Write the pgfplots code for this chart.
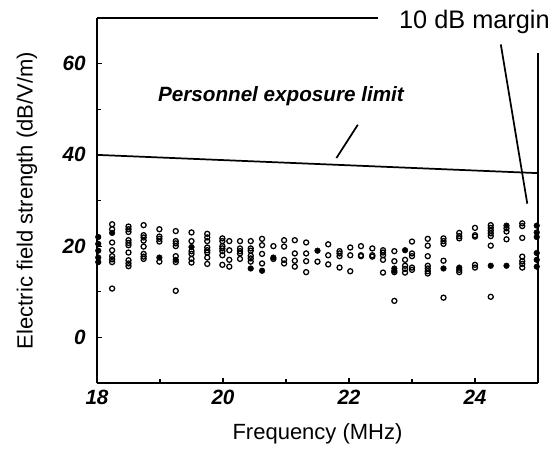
\documentclass[border=0pt]{standalone}
\usepackage{fontspec}
\setmainfont{Liberation Sans}
\usepackage{pgfplots}
\pgfplotsset{compat=1.18}
\usepackage{pgfplotstable}

% measured field strengths, open circles
\pgfplotstableread{
x y
18.24 24.8
18.24 23.7
18.24 20.8
18.24 19.1
18.24 17.8
18.24 17.1
18.24 16.5
18.24 10.7
18.50 24.3
18.50 23.7
18.50 23.1
18.50 21.3
18.50 20.7
18.50 20.2
18.50 18.6
18.50 16.9
18.50 16.2
18.50 15.6
18.74 24.6
18.74 22.4
18.74 21.9
18.74 21.2
18.74 19.9
18.74 18.3
18.74 17.7
18.74 17.2
18.99 23.7
18.99 22.1
18.99 21.6
18.99 21.0
18.99 16.6
19.25 23.3
19.25 21.1
19.25 20.6
19.25 20.0
19.25 17.8
19.25 16.5
19.25 10.2
19.50 23.0
19.50 21.1
19.50 18.9
19.50 18.3
19.50 17.2
19.50 16.4
19.75 22.7
19.75 21.9
19.75 21.1
19.75 19.7
19.75 19.1
19.75 18.6
19.75 17.5
19.75 16.1
19.99 21.7
19.99 21.1
19.99 20.0
19.99 19.5
19.99 18.9
19.99 18.0
19.99 15.9
20.10 21.1
20.10 19.1
20.10 17.0
20.10 15.5
20.27 21.1
20.27 19.5
20.27 18.9
20.27 18.4
20.27 17.2
20.44 21.1
20.44 19.5
20.44 19.0
20.44 17.9
20.44 17.3
20.44 16.6
20.62 21.6
20.62 20.2
20.62 18.3
20.62 16.2
20.80 20.0
20.80 17.2
20.97 21.3
20.97 19.9
20.97 17.0
20.97 16.2
21.14 21.3
21.14 18.4
21.14 16.8
21.14 15.5
21.32 20.8
21.32 18.4
21.32 16.7
21.32 14.3
21.50 16.6
21.67 20.4
21.67 18.0
21.67 16.0
21.85 18.9
21.85 18.4
21.85 17.8
21.85 15.3
22.02 19.7
22.02 18.0
22.02 14.5
22.19 20.0
22.19 18.0
22.19 17.8
22.37 19.5
22.37 18.0
22.37 17.7
22.54 19.1
22.54 18.6
22.54 18.0
22.54 17.0
22.54 14.2
22.72 18.9
22.72 16.7
22.72 14.3
22.72 8.0
22.89 17.0
22.89 15.7
22.89 15.0
22.89 14.2
23.00 21.0
23.00 18.4
23.00 17.8
23.00 15.3
23.00 14.8
23.25 21.6
23.25 20.1
23.25 17.8
23.25 15.7
23.25 15.1
23.25 14.5
23.25 14.0
23.50 21.7
23.50 21.1
23.50 20.5
23.50 16.8
23.50 8.7
23.75 22.9
23.75 22.2
23.75 21.7
23.75 14.8
23.75 14.3
24.00 24.0
24.00 22.4
24.00 22.1
24.00 15.9
24.00 15.3
24.25 24.6
24.25 24.0
24.25 23.4
24.25 22.8
24.25 22.2
24.25 20.1
24.25 8.9
24.50 23.9
24.50 23.2
24.50 21.5
24.75 25.0
24.75 24.4
24.75 21.8
24.75 17.7
24.75 16.7
24.75 16.1
24.75 15.3
}\opendata

% filled circles
\pgfplotstableread{
x y
18.02 22.0
18.02 20.5
18.02 19.0
18.02 17.5
18.02 16.5
18.24 22.9
18.99 17.5
19.25 17.0
19.50 19.8
20.44 15.1
20.62 14.6
20.80 17.5
21.50 19.0
22.72 15.1
22.72 14.6
22.89 19.1
23.50 15.1
23.75 15.3
24.25 15.7
24.50 24.5
24.50 15.7
24.98 24.5
24.98 23.0
24.98 22.0
24.98 18.5
24.98 17.0
24.98 15.5
}\filleddata

\begin{document}
\begin{tikzpicture}
\begin{axis}[
  scale only axis,
  width=330.75pt, height=273.75pt,
  xmin=18, xmax=25, ymin=-10, ymax=70,
  axis x line*=bottom, axis y line*=left,
  axis line style={line width=2pt, -},
  xtick={18,20,22,24}, minor xtick={19,21,23},
  ytick={0,20,40,60}, minor ytick={-10,10,30,50},
  tick style={black, line width=0.8pt},
  major tick length=4pt, minor tick length=3pt,
  tick align=inside,
  /pgf/number format/assume math mode=true,
  ticklabel style={font=\fontsize{15.5}{17}\selectfont\bfseries\itshape},
  yticklabel style={xshift=-5pt},
  xticklabel style={yshift=-2pt},
  xlabel={Frequency (MHz)},
  ylabel={Electric field strength (dB/V/m)},
  label style={font=\fontsize{16.5}{19}\selectfont},
  xlabel style={at={(axis description cs:0.5,-0.14)}, anchor=center},
  ylabel style={at={(axis description cs:-0.159,0.5)}, anchor=center},
  clip=false,
]
\addplot[black, line width=1.3pt] coordinates {(18,40) (25,36)};
\addplot[only marks, mark=o, mark size=1.9pt, mark options={line width=0.95pt, black}] table[x=x,y=y] {\opendata};
\addplot[only marks, mark=*, mark size=2.1pt, mark options={black, fill=black}] table[x=x,y=y] {\filleddata};
% partial frame as in the original
\draw[line width=1.6pt] (axis cs:18,70) -- (axis cs:22.46,70);
\draw[line width=1.6pt] (axis cs:25,62.3) -- (axis cs:25,-10);
% annotations
\node[font=\fontsize{19}{22}\selectfont, anchor=west] at (axis cs:22.72,69.1) {10 dB margin};
\draw[line width=1.3pt] (axis cs:24.41,64.2) -- (axis cs:24.83,29.3);
\node[font=\fontsize{15.5}{18}\selectfont\bfseries\itshape] at (axis cs:20.92,52.8) {Personnel exposure limit};
\draw[line width=1.3pt] (axis cs:21.80,39.3) -- (axis cs:22.14,46.6);
\end{axis}
\pgfresetboundingbox
\path (-72.75pt,-50.25pt) rectangle (343.5pt,287.25pt);
\end{tikzpicture}
\end{document}
